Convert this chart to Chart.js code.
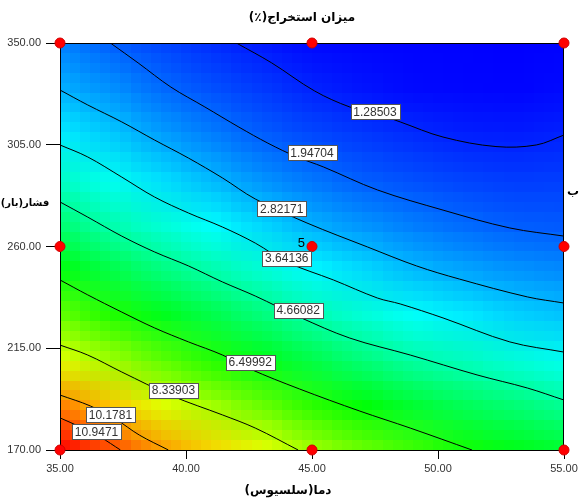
<!DOCTYPE html>
<html>
<head>
<meta charset="utf-8">
<script src="https://cdn.jsdelivr.net/npm/chart.js@4.4.1/dist/chart.umd.min.js"></script>
<style>
  html, body { margin: 0; padding: 0; background: #fff; }
</style>
</head>
<body>
<canvas id="contourChart" width="582" height="500"></canvas>
<script>
// grid nodes of the response surface (temperature, pressure)
const temperatures = [35, 37, 39, 41, 43, 45, 47, 49, 51, 53, 55];
const pressures = [170, 190, 210, 230, 250, 270, 290, 310, 330, 350];

// extraction (%) at each node, one row per pressure
const row170 = [11.90, 11.14, 10.26, 9.60, 8.93, 8.15, 7.58, 7.08, 6.59, 6.18, 5.93];
const row190 = [10.51, 9.75, 8.80, 8.15, 7.49, 6.84, 6.32, 5.84, 5.44, 5.13, 4.78];
const row210 = [8.87, 8.14, 7.39, 6.77, 6.16, 5.63, 5.09, 4.62, 4.36, 4.05, 3.80];
const row230 = [7.47, 6.75, 6.11, 5.60, 5.06, 4.50, 4.08, 3.71, 3.44, 3.17, 3.01];
const row250 = [6.24, 5.60, 5.01, 4.52, 4.08, 3.59, 3.24, 2.89, 2.67, 2.49, 2.38];
const row270 = [5.18, 4.55, 4.09, 3.67, 3.22, 2.81, 2.52, 2.26, 2.06, 1.91, 1.87];
const row290 = [4.24, 3.79, 3.30, 2.89, 2.49, 2.17, 1.90, 1.75, 1.62, 1.55, 1.57];
const row310 = [3.47, 3.08, 2.62, 2.26, 1.90, 1.68, 1.50, 1.35, 1.23, 1.20, 1.27];
const row330 = [2.80, 2.48, 2.06, 1.77, 1.53, 1.28, 1.12, 1.00, 0.96, 0.94, 1.00];
const row350 = [2.31, 1.94, 1.65, 1.40, 1.17, 1.00, 0.95, 0.93, 0.92, 0.90, 0.93];
const extractionGrid = [row170, row190, row210, row230, row250, row270, row290, row310, row330, row350];

// contour levels and their traced paths [temperature, pressure]
const contourLevels = ["1.28503", "1.94704", "2.82171", "3.64136", "4.66082", "6.49992", "8.33903", "10.1781", "10.9471"];
const contour1 = [[42.0, 350], [43.4, 341.2], [45.1, 328.8], [46.5, 321.7], [47.5, 319.0], [48.5, 315.1], [50.2, 308.4], [52.3, 304.2], [53.9, 304.9], [55, 309.3]];
const contour2 = [[37.0, 350], [38.1, 341.2], [39.4, 330.5], [40.75, 321.7], [42.1, 312.8], [43.25, 305.7], [44.4, 299.6], [45.45, 295.2], [47.6, 285.0], [50.2, 276.1], [52.85, 268.2], [55, 264.6]];
const contour3 = [[35, 329.2], [36.1, 322.6], [37.45, 315.1], [38.75, 307.1], [40.1, 299.1], [41.45, 290.3], [42.75, 281.0], [44.8, 270.4], [47.2, 259.8], [49.15, 251.4], [50.85, 245.6], [53.55, 237.7], [55, 235.0]];
const contour4 = [[35, 304.9], [36.1, 299.6], [37.45, 290.7], [38.75, 281.9], [40.1, 274.8], [41.45, 268.6], [42.75, 261.5], [44.0, 253.1], [45.85, 245.2], [47.6, 237.2], [48.5, 234.6], [50.2, 228.4], [52.85, 217.8], [55, 213.3]];
const contour5 = [[35, 279.7], [36.1, 273.0], [37.45, 264.6], [38.75, 257.6], [40.1, 251.4], [41.45, 244.3], [42.75, 238.1], [44.5, 228.8], [46.5, 219.5], [48.9, 212.0], [51.55, 203.2], [53.55, 197.4], [55, 192.1]];
const contour6 = [[35, 245.2], [36.1, 238.6], [37.45, 231.0], [38.75, 224.0], [40.1, 217.8], [41.45, 212.0], [42.55, 205.8], [44.5, 197.0], [46.9, 187.2], [48.9, 179.7], [51.35, 170]];
const contour7 = [[35, 216.4], [36.1, 212.0], [37.45, 204.5], [39.45, 193.9], [41.45, 185.5], [42.75, 179.7], [44.45, 170]];
const contour8 = [[35, 194.3], [36.2, 189.5], [37.2, 183.7], [38.15, 176.6], [39.3, 170]];
const contour9 = [[35, 184.2], [35.8, 180.2], [36.6, 175.7], [37.4, 170]];
const contourPaths = [contour1, contour2, contour3, contour4, contour5, contour6, contour7, contour8, contour9];
const contourLabelAt = [[47.5, 319.5], [45.0, 301.4], [43.8, 276.6], [44.0, 254.9], [44.45, 231.9], [42.55, 208.9], [39.5, 196.5], [37.0, 185.5], [36.45, 178.0]];

// design points (centre point has 5 replicates)
const designTemp = [35, 35, 35, 45, 45, 45, 55, 55, 55];
const designPress = [170, 260, 350, 170, 260, 350, 170, 260, 350];

const xTicks = [35, 40, 45, 50, 55];
const yTicks = [170, 215, 260, 305, 350];

const persianFont = "'DejaVu Sans', 'Noto Sans', sans-serif";
const numberFont = "'Liberation Sans', Arial, sans-serif";

// blue -> cyan -> green -> yellow -> red
const colourStops = [[0, 0, 255], [0, 255, 255], [0, 255, 0], [255, 255, 0], [255, 0, 0]];

const colourFor = (v, lo, hi) => {
  const f = Math.min(1, Math.max(0, (v - lo) / (hi - lo))) * 4;
  const i = Math.min(3, Math.floor(f));
  const t = f - i;
  const a = colourStops[i];
  const b = colourStops[i + 1];
  return a.map((c, k) => Math.round(c + (b[k] - c) * t));
};

/**
 * Paints the coloured surface under the contour lines
 */
const surfacePlugin = {
  id: "surface",
  beforeDatasetsDraw(chart) {
    const { ctx, chartArea: area, scales: { x, y } } = chart;
    const rows = pressures.length;
    const cols = temperatures.length;
    const all = extractionGrid.flat();
    const lo = Math.min(...all);
    const hi = Math.max(...all);

    const nodes = document.createElement("canvas");
    nodes.width = cols;
    nodes.height = rows;
    const nctx = nodes.getContext("2d");
    const img = nctx.createImageData(cols, rows);
    extractionGrid.forEach((row, r) => {
      row.forEach((v, c) => {
        const [R, G, B] = colourFor(v, lo, hi);
        const i = ((rows - 1 - r) * cols + c) * 4;
        img.data[i] = R;
        img.data[i + 1] = G;
        img.data[i + 2] = B;
        img.data[i + 3] = 255;
      });
    });
    nctx.putImageData(img, 0, 0);

    // coarse ~10px cells, like the original render
    const cellsW = Math.round(area.width / 10);
    const cellsH = Math.round(area.height / 10);
    const cells = document.createElement("canvas");
    cells.width = cellsW;
    cells.height = cellsH;
    const cctx = cells.getContext("2d");
    cctx.imageSmoothingEnabled = true;

    const dT = temperatures[1] - temperatures[0];
    const dP = pressures[1] - pressures[0];
    const left = x.getPixelForValue(temperatures[0] - dT / 2);
    const right = x.getPixelForValue(temperatures[cols - 1] + dT / 2);
    const top = y.getPixelForValue(pressures[rows - 1] + dP / 2);
    const bottom = y.getPixelForValue(pressures[0] - dP / 2);
    const sx = cellsW / area.width;
    const sy = cellsH / area.height;
    cctx.drawImage(nodes, (left - area.left) * sx, (top - area.top) * sy, (right - left) * sx, (bottom - top) * sy);

    ctx.save();
    ctx.imageSmoothingEnabled = false;
    ctx.drawImage(cells, area.left, area.top, area.width, area.height);
    ctx.strokeStyle = "#000";
    ctx.lineWidth = 1;
    ctx.strokeRect(Math.round(area.left) + 0.5, Math.round(area.top) + 0.5, Math.round(area.width) - 1, Math.round(area.height));
    ctx.restore();
  },
};

/**
 * Contour value boxes
 */
const contourLabelPlugin = {
  id: "contourLabels",
  afterDatasetsDraw(chart) {
    const { ctx, scales: { x, y } } = chart;
    ctx.save();
    ctx.font = `12px ${numberFont}`;
    ctx.textAlign = "center";
    ctx.textBaseline = "middle";
    contourLevels.forEach((label, i) => {
      const px = x.getPixelForValue(contourLabelAt[i][0]);
      const py = y.getPixelForValue(contourLabelAt[i][1]);
      const w = Math.round(ctx.measureText(label).width) + 6;
      const h = 15;
      const bx = Math.round(px - w / 2) + 0.5;
      const by = Math.round(py - h / 2) + 0.5;
      ctx.fillStyle = "#fff";
      ctx.fillRect(bx, by, w, h);
      ctx.strokeStyle = "#555";
      ctx.lineWidth = 1;
      ctx.strokeRect(bx, by, w, h);
      ctx.fillStyle = "#333";
      ctx.fillText(label, px, py + 1);
    });
    ctx.restore();
  },
};

/**
 * Titles in Persian and the replicate count
 */
const textPlugin = {
  id: "texts",
  afterDraw(chart) {
    const { ctx, scales: { x, y } } = chart;
    ctx.save();
    ctx.fillStyle = "#000";
    ctx.textBaseline = "middle";
    ctx.direction = "rtl";
    ctx.textAlign = "center";
    ctx.font = `bold 12px ${persianFont}`;
    ctx.fillText("میزان استخراج(٪)", 302, 18);
    ctx.fillText("دما(سلسیوس)", 288, 491);
    ctx.fillText("ب", 573, 192);
    ctx.font = `bold 10px ${persianFont}`;
    ctx.fillText("فشار(بار)", 25, 203);

    ctx.direction = "ltr";
    ctx.textAlign = "right";
    ctx.font = `13px ${numberFont}`;
    ctx.fillText("5", x.getPixelForValue(45) - 7, y.getPixelForValue(260) - 3);
    ctx.restore();
  },
};

const contourDatasets = contourPaths.map((path, i) => ({
  label: contourLevels[i],
  data: path.map(([t, p]) => ({ x: t, y: p })),
  showLine: true,
  borderColor: "#000",
  borderWidth: 1,
  pointRadius: 0,
  tension: 0.35,
}));

const designDataset = {
  label: "Design points",
  data: designTemp.map((t, i) => ({ x: t, y: designPress[i] })),
  pointRadius: 5,
  backgroundColor: "#ff0000",
  borderColor: "#d00000",
  borderWidth: 1,
  clip: false,
};

const axisTickFont = { family: numberFont, size: 11 };

const chartCanvas = document.getElementById("contourChart");
new Chart(chartCanvas.getContext("2d"), {
  type: "scatter",
  data: { datasets: [designDataset, ...contourDatasets] },
  options: {
    responsive: false,
    animation: false,
    layout: { padding: { top: 43, right: 18, left: 0, bottom: 0 } },
    plugins: {
      legend: { display: false },
      tooltip: { enabled: false },
    },
    scales: {
      x: {
        type: "linear",
        min: 35,
        max: 55,
        afterBuildTicks: (scale) => {
          scale.ticks = xTicks.map((v) => ({ value: v }));
        },
        afterFit: (scale) => {
          scale.height = 50;
        },
        grid: { drawOnChartArea: false, tickLength: 9, color: "#000" },
        border: { color: "#000" },
        ticks: {
          callback: (v) => Number(v).toFixed(2),
          font: axisTickFont,
          color: "#333",
          padding: 3,
          maxRotation: 0,
        },
      },
      y: {
        type: "linear",
        min: 170,
        max: 350,
        afterBuildTicks: (scale) => {
          scale.ticks = yTicks.map((v) => ({ value: v }));
        },
        afterFit: (scale) => {
          scale.width = 60;
        },
        grid: { drawOnChartArea: false, tickLength: 14, color: "#000" },
        border: { color: "#000" },
        ticks: {
          callback: (v) => Number(v).toFixed(2),
          font: axisTickFont,
          color: "#333",
          padding: 5,
        },
      },
    },
  },
  plugins: [surfacePlugin, contourLabelPlugin, textPlugin],
});
</script>
</body>
</html>
